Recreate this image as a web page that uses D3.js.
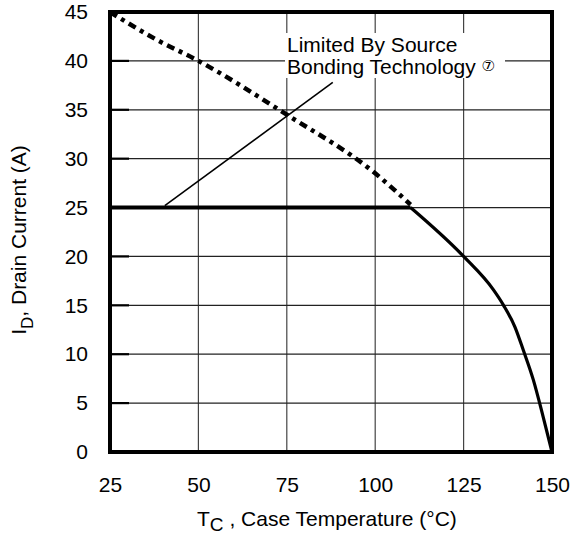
<!DOCTYPE html>
<html>
<head>
<meta charset="utf-8">
<script src="https://cdn.jsdelivr.net/npm/d3@7"></script>
<style>
  body { margin: 0; background: #fff; }
  text { font-family: "Liberation Sans", Arial, Helvetica, sans-serif; fill: #000; }
</style>
</head>
<body>
<div id="chart"></div>
<script>
// data
const xTicks = [25, 50, 75, 100, 125, 150];
const yTicks = [0, 5, 10, 15, 20, 25, 30, 35, 40, 45];

// dashed: silicon limited curve
const tcDash = [25, 37.5, 50, 75, 100, 110];
const idDash = [45, 42.3, 40, 34.5, 28.5, 25.3];

// flat 25 A limit
const tcFlat = [25, 110];
const idFlat = [25, 25];

// solid falling part
const tcSolid = [110, 125, 133.4, 136.3, 139.5, 141.9, 144.7, 147.5, 150];
const idSolid = [25, 20, 16.6, 15, 12.8, 10.4, 7.4, 3.6, 0];

// pointer from note to the curve
const tcNote = [40.5, 88];
const idNote = [25.2, 37.8];

const W = 570, H = 537;
const m = {left: 110, top: 12, right: 18, bottom: 85};

const svg = d3.select("#chart").append("svg")
    .attr("width", W)
    .attr("height", H);

const x = d3.scaleLinear().domain([25, 150]).range([m.left, W - m.right]);
const y = d3.scaleLinear().domain([0, 45]).range([H - m.bottom, m.top]);

// grid
svg.append("g")
  .selectAll("line")
  .data(xTicks.slice(1, -1)).enter()
  .append("line")
    .attr("x1", d => x(d)).attr("x2", d => x(d))
    .attr("y1", y(45)).attr("y2", y(0))
    .attr("stroke", "#444").attr("stroke-width", 1.2);

svg.append("g")
  .selectAll("line")
  .data(yTicks.slice(1, -1)).enter()
  .append("line")
    .attr("x1", x(25)).attr("x2", x(150))
    .attr("y1", d => y(d)).attr("y2", d => y(d))
    .attr("stroke", "#222").attr("stroke-width", 1.2);

// short ticks inside the left edge
svg.append("g")
  .selectAll("line")
  .data(yTicks).enter()
  .append("line")
    .attr("x1", x(25)).attr("x2", x(25) + 19)
    .attr("y1", d => y(d)).attr("y2", d => y(d))
    .attr("stroke", "#000").attr("stroke-width", 2.2);

// note box knocks out the grid
svg.append("rect")
    .attr("x", 285).attr("y", 33)
    .attr("width", 220).attr("height", 45)
    .attr("fill", "#fff");

const lineOf = (xs, ys, curve) => d3.line()
    .x((d, i) => x(xs[i]))
    .y((d, i) => y(ys[i]))
    .curve(curve || d3.curveLinear)(xs);

svg.append("path")
    .attr("d", lineOf(tcNote, idNote))
    .attr("fill", "none").attr("stroke", "#000").attr("stroke-width", 1.6);

svg.append("path")
    .attr("d", lineOf(tcDash, idDash, d3.curveMonotoneX))
    .attr("fill", "none").attr("stroke", "#000")
    .attr("stroke-width", 4.5)
    .attr("stroke-dasharray", "8,5,4,5");

svg.append("path")
    .attr("d", lineOf(tcFlat, idFlat))
    .attr("fill", "none").attr("stroke", "#000").attr("stroke-width", 4);

svg.append("path")
    .attr("d", lineOf(tcSolid, idSolid, d3.curveMonotoneX))
    .attr("fill", "none").attr("stroke", "#000").attr("stroke-width", 3.2);

// frame
svg.append("rect")
    .attr("x", x(25)).attr("y", y(45))
    .attr("width", x(150) - x(25)).attr("height", y(0) - y(45))
    .attr("fill", "none").attr("stroke", "#000").attr("stroke-width", 4);

// axes labels (tick lines hidden, only text)
const xAxis = svg.append("g")
    .attr("transform", `translate(0,${y(0)})`)
    .call(d3.axisBottom(x).tickValues(xTicks).tickSize(0).tickPadding(25));
const yAxis = svg.append("g")
    .attr("transform", `translate(${x(25)},0)`)
    .call(d3.axisLeft(y).tickValues(yTicks).tickSize(0).tickPadding(22));
[xAxis, yAxis].forEach(g => {
  g.select(".domain").remove();
  g.selectAll("text")
    .style("font-family", '"Liberation Sans", Arial, sans-serif')
    .style("font-size", "21px");
});

// note text
const note = svg.append("text").attr("font-size", 21);
note.append("tspan").attr("x", 287).attr("y", 52).text("Limited By Source");
note.append("tspan").attr("x", 287).attr("y", 74).text("Bonding Technology ");
note.append("tspan")
    .attr("dy", -3)
    .style("font-family", '"DejaVu Sans", "Noto Sans CJK JP", sans-serif')
    .attr("font-size", 15)
    .text("⑦");

// x title
const xt = svg.append("text")
    .attr("x", 197).attr("y", 526)
    .attr("font-size", 21);
xt.append("tspan").text("T");
xt.append("tspan").attr("dy", 5).attr("font-size", 19).text("C");
xt.append("tspan").attr("dy", -5).text(" , Case Temperature (°C)");

// y title
const yt = svg.append("text")
    .attr("transform", "translate(26,240) rotate(-90)")
    .attr("text-anchor", "middle")
    .attr("font-size", 21);
yt.append("tspan").text("I");
yt.append("tspan").attr("dy", 7).attr("font-size", 17).text("D");
yt.append("tspan").attr("dy", -7).text(",  Drain Current (A)");
</script>
</body>
</html>
